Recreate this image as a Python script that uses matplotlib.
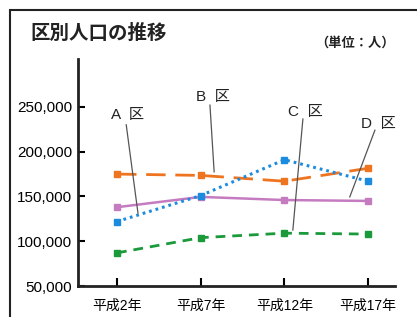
import matplotlib
matplotlib.use("Agg")
import matplotlib.pyplot as plt
from matplotlib.patches import Rectangle
from matplotlib.ticker import FuncFormatter

plt.rcParams["font.family"] = ["Liberation Sans", "Noto Sans CJK JP", "DejaVu Sans"]

years = ["平成2年", "平成7年", "平成12年", "平成17年"]
ward_a = [122000, 151000, 191000, 167000]   # blue dotted
ward_b = [175000, 173500, 167000, 181500]   # orange long dash
ward_c = [87000, 104000, 109000, 108000]    # green dashed
ward_d = [138000, 149500, 146000, 145000]   # pink solid
yticks = [50000, 100000, 150000, 200000, 250000]

x = list(range(len(years)))

fig = plt.figure(figsize=(4.17, 3.17), dpi=100)
ax = fig.add_axes([78 / 417, 31 / 317, 317 / 417, 227 / 317])

ax.plot(x, ward_b, color="#ee7420", lw=2, dashes=(7, 3.5), marker="s", ms=5, zorder=3)
ax.plot(x, ward_d, color="#c57bc0", lw=1.8, marker="s", ms=5, zorder=3)
ax.plot(x, ward_a, color="#1b8be0", lw=2.2, dashes=(0.9, 1.3), marker="s", ms=5, zorder=3)
ax.plot(x, ward_c, color="#1a9a3a", lw=2, dashes=(3.5, 2.5), marker="s", ms=5, zorder=3)

# labels with leader lines
labels = [
    ("A  区", (0.13, 241000), (0.11, 230000), (0.25, 131500)),
    ("B  区", (1.15, 261000), (1.11, 252000), (1.16, 177500)),
    ("C  区", (2.25, 244500), (2.22, 236500), (2.10, 112500)),
    ("D  区", (3.12, 231000), (3.08, 224000), (2.78, 149500)),
]
for txt, tpos, p0, p1 in labels:
    ax.text(*tpos, txt, ha="center", va="center", fontsize=11, color="#222")
    ax.plot([p0[0], p1[0]], [p0[1], p1[1]], color="#555", lw=0.9, zorder=4)

ax.set_xlim(-0.466, 3.32)
ax.set_ylim(50000, 303500)
ax.set_xticks(x)
ax.set_xticklabels(years, fontsize=10)
ax.set_yticks(yticks)
ax.yaxis.set_major_formatter(FuncFormatter(lambda v, p: f"{int(v):,}"))
ax.tick_params(axis="y", direction="in", length=5, width=1.5, labelsize=11, pad=4)
ax.tick_params(axis="x", direction="in", length=6, width=1.5, pad=9)
for s in ["top", "right"]:
    ax.spines[s].set_visible(False)
for s in ["left", "bottom"]:
    ax.spines[s].set_linewidth(2)
    ax.spines[s].set_color("#222")

fig.text(30 / 417, 1 - 33 / 317, "区別人口の推移", fontsize=14, fontweight="bold",
         va="center", ha="left", color="#222", family="Noto Sans CJK JP")
fig.text(395 / 417, 1 - 43 / 317, "（単位：人）", fontsize=9.5, fontweight="bold",
         va="center", ha="right", color="#222", family="Noto Sans CJK JP")

fig.patches.append(Rectangle((10 / 417, -0.1), 1.2, 1 - 10 / 317 + 0.1,
                             transform=fig.transFigure, fill=False,
                             ec="#222", lw=1.5))

fig.savefig("out.png", dpi=100)
